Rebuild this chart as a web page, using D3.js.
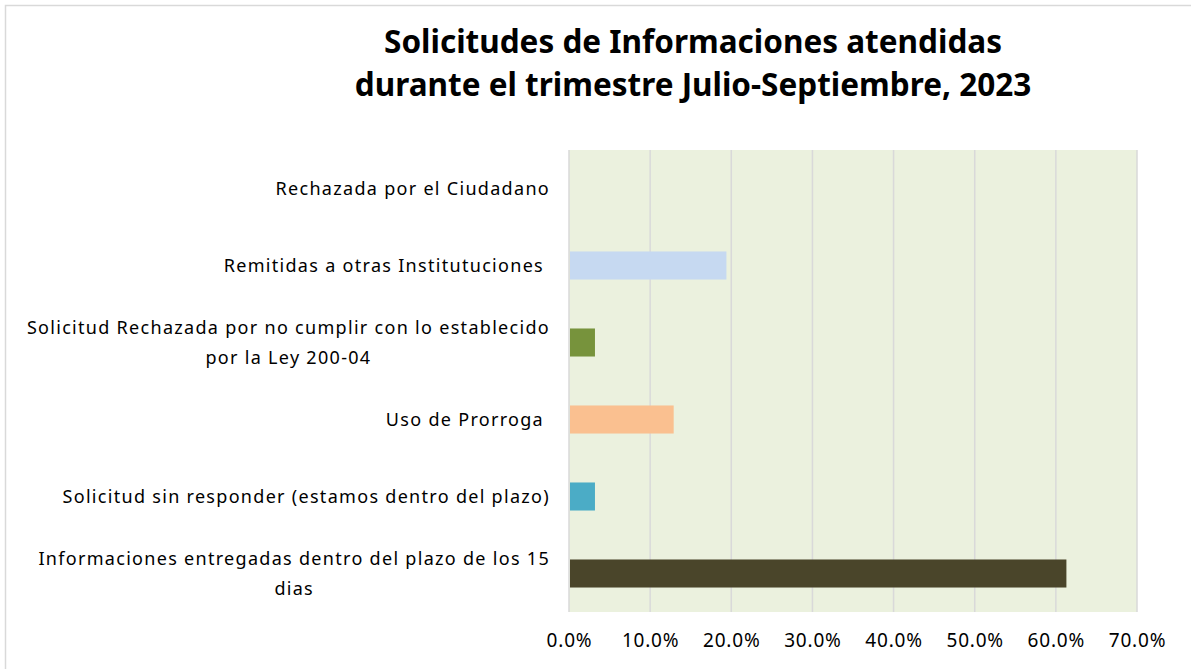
<!DOCTYPE html>
<html>
<head>
<meta charset="utf-8">
<script src="https://cdn.jsdelivr.net/npm/d3@7"></script>
<style>
  body { margin: 0; background: #fff; }
  text { font-family: "Noto Sans", sans-serif; fill: #000; white-space: pre; }
</style>
</head>
<body>
<div id="container"></div>
<script>
/** DATA */
const categories = [
  ["Rechazada por el Ciudadano"],
  ["Remitidas a otras Institutuciones "],
  ["Solicitud Rechazada por no cumplir con lo establecido", "por la Ley 200-04"],
  ["Uso de Prorroga "],
  ["Solicitud sin responder (estamos dentro del plazo)"],
  ["Informaciones entregadas dentro del plazo de los 15", "dias"]
];
const values = [0, 0.194, 0.032, 0.129, 0.032, 0.613];
const colors = ["#4F81BD", "#C6D9F1", "#77933C", "#FAC090", "#4BACC6", "#4A452A"];
const ticks = [0, 0.1, 0.2, 0.3, 0.4, 0.5, 0.6, 0.7];
const titleLines = ["Solicitudes de Informaciones atendidas", "durante el trimestre Julio-Septiembre, 2023"];

/** CONSTANTS */
const width = 1191, height = 669;
const margin = { top: 150, bottom: 57, left: 569, right: 54 };

const svg = d3.select("#container").append("svg")
  .attr("width", width)
  .attr("height", height);

// chart border (runs off the right and bottom edges)
svg.append("rect")
  .attr("x", 5.5).attr("y", 5.5)
  .attr("width", width + 20).attr("height", height + 20)
  .attr("fill", "none")
  .attr("stroke", "#d9d9d9")
  .attr("stroke-width", 1.5);

// title
svg.append("text")
  .attr("x", 693).attr("y", 53)
  .attr("text-anchor", "middle")
  .style("font-size", "31.5px")
  .style("font-weight", "bold")
  .selectAll("tspan")
  .data(titleLines)
  .join("tspan")
  .attr("x", 693)
  .attr("dy", (d, i) => i ? 43 : 0)
  .text(d => d);

const x = d3.scaleLinear()
  .domain([0, 0.7])
  .range([margin.left, width - margin.right]);

const y = d3.scaleBand()
  .domain(d3.range(categories.length))
  .range([margin.top, height - margin.bottom])
  .paddingInner(0.636)
  .paddingOuter(0.318);

// plot background
svg.append("rect")
  .attr("x", x(0)).attr("y", margin.top)
  .attr("width", x(0.7) - x(0))
  .attr("height", height - margin.bottom - margin.top)
  .attr("fill", "#EBF1DE");

// gridlines
svg.selectAll("line.grid")
  .data(ticks)
  .join("line")
  .attr("class", "grid")
  .attr("x1", d => x(d)).attr("x2", d => x(d))
  .attr("y1", margin.top).attr("y2", height - margin.bottom)
  .attr("stroke", "#d9d9d9")
  .attr("stroke-width", 1.5);

// bars
svg.selectAll("rect.bar")
  .data(values)
  .join("rect")
  .attr("class", "bar")
  .attr("x", x(0) + 1)
  .attr("y", (d, i) => y(i))
  .attr("height", y.bandwidth())
  .attr("width", d => Math.max(0, x(d) - x(0) - 1))
  .attr("fill", (d, i) => colors[i]);

// x axis
const xAxis = d3.axisBottom(x)
  .tickValues(ticks)
  .tickFormat(d3.format(".1%"))
  .tickSize(0)
  .tickPadding(22);

svg.append("g")
  .attr("transform", `translate(0,${height - margin.bottom})`)
  .call(xAxis)
  .call(g => g.select(".domain").remove())
  .selectAll("text")
  .style("font-size", "19px")
  .style("letter-spacing", "0.8px")
  .style("font-family", "Noto Sans, sans-serif")
  .attr("fill", "#000");

// category labels: block right aligned, lines centred within block
const lh = 30;
const labels = svg.append("g");
categories.forEach((lines, i) => {
  const cy = y(i) + y.bandwidth() / 2;
  const g = labels.append("g");
  const t = g.selectAll("text")
    .data(lines)
    .join("text")
    .attr("y", (d, j) => cy + (j - (lines.length - 1) / 2) * lh)
    .attr("dy", "0.35em")
    .attr("text-anchor", "middle")
    .style("font-size", "18px")
    .style("letter-spacing", "1.3px")
    .text(d => d);
  const w = d3.max(t.nodes(), n => n.getComputedTextLength());
  t.attr("x", 550 - w / 2);
});
</script>
</body>
</html>
